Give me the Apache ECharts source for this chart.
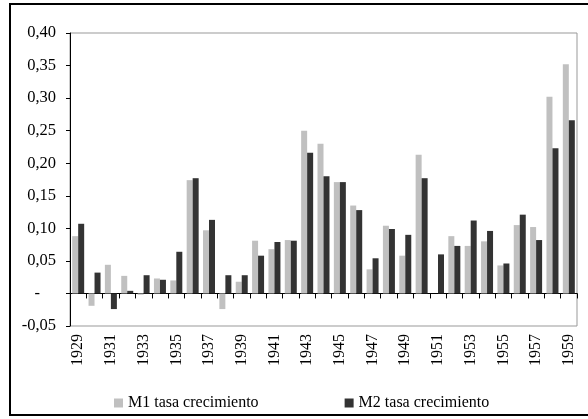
<!DOCTYPE html>
<html>
<head>
<meta charset="utf-8">
<script src="https://cdn.jsdelivr.net/npm/echarts@6/dist/echarts.min.js"></script>
<style>
html,body{margin:0;padding:0;background:#fff;overflow:hidden;}
#chart{position:absolute;left:0;top:0;width:588px;height:419px;}
.frame{position:absolute;left:9px;top:3px;width:620px;height:413px;border:2px solid #000;box-sizing:border-box;pointer-events:none;}
</style>
</head>
<body>
<div id="chart"></div>
<div class="frame"></div>
<script>
// years on the category axis
var years = ['1929','1930','1931','1932','1933','1934','1935','1936','1937','1938',
  '1939','1940','1941','1942','1943','1944','1945','1946','1947','1948',
  '1949','1950','1951','1952','1953','1954','1955','1956','1957','1958','1959'];
// M1 growth rate
var m1 = [0.088, -0.019, 0.044, 0.027, -0.002, 0.023, 0.020, 0.174, 0.097, -0.024,
  0.018, 0.081, 0.068, 0.082, 0.250, 0.230, 0.171, 0.135, 0.037, 0.104,
  0.058, 0.213, 0, 0.088, 0.073, 0.080, 0.043, 0.105, 0.102, 0.302, 0.352];
// M2 growth rate
var m2 = [0.107, 0.032, -0.024, 0.004, 0.028, 0.021, 0.064, 0.177, 0.113, 0.028,
  0.028, 0.058, 0.079, 0.081, 0.216, 0.180, 0.171, 0.128, 0.054, 0.099,
  0.090, 0.177, 0.060, 0.073, 0.112, 0.096, 0.046, 0.121, 0.082, 0.223, 0.266];
var seriesNames = ['M1 tasa crecimiento', 'M2 tasa crecimiento'];

var font = '"Liberation Serif", "Times New Roman", serif';
var myChart = echarts.init(document.getElementById('chart'));
var option = {
  animation: false,
  textStyle: {fontFamily: font, color: '#000'},
  grid: {
    left: 70, right: 11, top: 33, bottom: 93,
    show: true, borderColor: '#999', borderWidth: 1
  },
  legend: {
    data: seriesNames,
    left: 109, top: 390,
    icon: 'rect', itemWidth: 9, itemHeight: 9, itemGap: 86,
    textStyle: {fontFamily: font, fontSize: 16, color: '#000'}
  },
  xAxis: [
    {
      type: 'category',
      data: years,
      axisLine: {onZero: true, lineStyle: {color: '#000', width: 1}},
      axisTick: {show: true, interval: 0, length: 5, lineStyle: {color: '#000'}},
      axisLabel: {show: false},
      splitLine: {show: false}
    },
    {
      type: 'category',
      data: years,
      position: 'bottom',
      axisLine: {show: false, onZero: false},
      axisTick: {show: false},
      axisLabel: {
        interval: 1, rotate: 90, margin: 8,
        fontFamily: font, fontSize: 16, color: '#000'
      },
      splitLine: {show: false}
    }
  ],
  yAxis: {
    type: 'value',
    min: -0.05, max: 0.40, interval: 0.05,
    axisLine: {show: true, lineStyle: {color: '#000', width: 1}},
    axisTick: {show: true, length: 4, lineStyle: {color: '#000'}},
    splitLine: {show: false},
    axisLabel: {
      margin: 14,
      fontFamily: font, fontSize: 16.5, color: '#000',
      formatter: function (v) {
        if (Math.abs(v) < 1e-9) return '{z|-}';
        return v.toFixed(2).replace('.', ',');
      },
      rich: {z: {fontFamily: font, fontSize: 16.5, color: '#000', padding: [0, 16, 0, 0]}}
    }
  },
  series: [
    {
      name: seriesNames[0],
      type: 'bar',
      xAxisIndex: 0,
      data: m1,
      barWidth: 6,
      barGap: '0%',
      itemStyle: {color: '#c0c0c0'}
    },
    {
      name: seriesNames[1],
      type: 'bar',
      xAxisIndex: 0,
      data: m2,
      barWidth: 6,
      barGap: '0%',
      itemStyle: {color: '#333333'}
    }
  ]
};
myChart.setOption(option);
</script>
</body>
</html>
